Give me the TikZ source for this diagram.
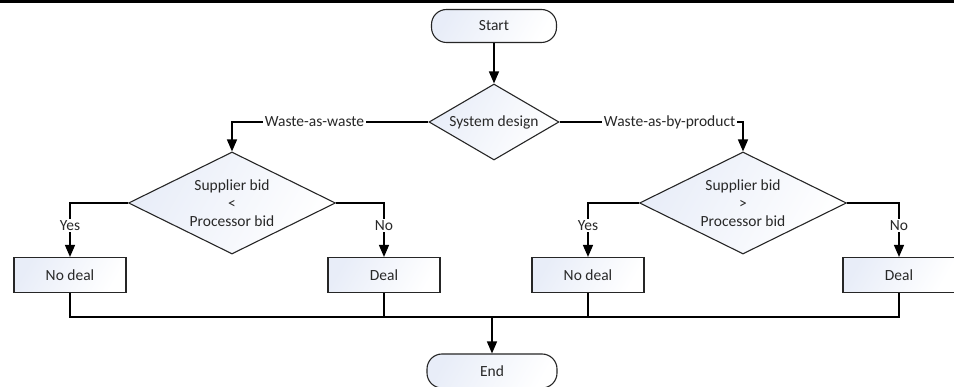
\documentclass[tikz,border=0pt]{standalone}
\usepackage{fontspec}
\setmainfont{Carlito}
\usetikzlibrary{shapes.geometric,arrows.meta,calc}
\definecolor{flowfill}{RGB}{232,237,248}
\definecolor{flowtext}{RGB}{40,40,40}
\tikzset{
  base/.style={draw=black!85, line width=1.1pt, left color=flowfill, right color=white,
    shading angle=60, font=\fontsize{15.5}{18}\selectfont, text=flowtext},
  terminal/.style={base, rectangle, rounded corners=15pt, minimum width=125pt, minimum height=33pt},
  process/.style={base, rectangle, minimum width=112pt, minimum height=35pt},
  decision/.style={base, diamond, shape aspect=2, inner sep=0pt, align=center},
  flow/.style={line width=1.4pt, draw=black},
  arrowflow/.style={flow, -{Triangle[width=10pt,length=12pt]}},
  lbl/.style={fill=white, inner sep=1.5pt, font=\fontsize{15.5}{18}\selectfont, text=flowtext},
}
\begin{document}
\begin{tikzpicture}[x=1pt,y=-1pt]
  \useasboundingbox (0,0) rectangle (954,387);
  % rule along the top edge
  \draw[line width=3pt] (0,1.5) -- (954,1.5);

  % nodes
  \node[terminal] (start) at (494,26) {Start};
  \node[decision, minimum width=130pt, minimum height=76pt] (design) at (494,122) {System design};
  \node[decision, minimum width=207pt, minimum height=102pt] (ldec) at (232,203) {Supplier bid\\<\\Processor bid};
  \node[decision, minimum width=207pt, minimum height=102pt] (rdec) at (743,203) {Supplier bid\\>\\Processor bid};
  \node[process] (lno) at (70,275) {No deal};
  \node[process] (ldeal) at (384,275) {Deal};
  \node[process] (rno) at (588,275) {No deal};
  \node[process] (rdeal) at (899,275) {Deal};
  \node[terminal, minimum width=130pt, minimum height=34pt] (end) at (492,371) {End};
  \coordinate (merge) at (492,317);

  % connectors
  \draw[arrowflow] (start) -- (design);
  \draw[arrowflow] (design.west) -| node[lbl, pos=0.29] {Waste-as-waste} (ldec.north);
  \draw[arrowflow] (design.east) -| node[lbl, pos=0.30] {Waste-as-by-product} (rdec.north);
  \draw[arrowflow] (ldec.west) -| node[lbl, pos=0.71] {Yes} (lno.north);
  \draw[arrowflow] (ldec.east) -| node[lbl, pos=0.71] {No} (ldeal.north);
  \draw[arrowflow] (rdec.west) -| node[lbl, pos=0.71] {Yes} (rno.north);
  \draw[arrowflow] (rdec.east) -| node[lbl, pos=0.71] {No} (rdeal.north);

  \draw[flow] (lno.south) |- (merge) -| (rdeal.south);
  \draw[flow] (ldeal.south) -- (ldeal.south |- merge);
  \draw[flow] (rno.south) -- (rno.south |- merge);
  \draw[arrowflow] (merge) -- (merge |- end.north);
\end{tikzpicture}
\end{document}
